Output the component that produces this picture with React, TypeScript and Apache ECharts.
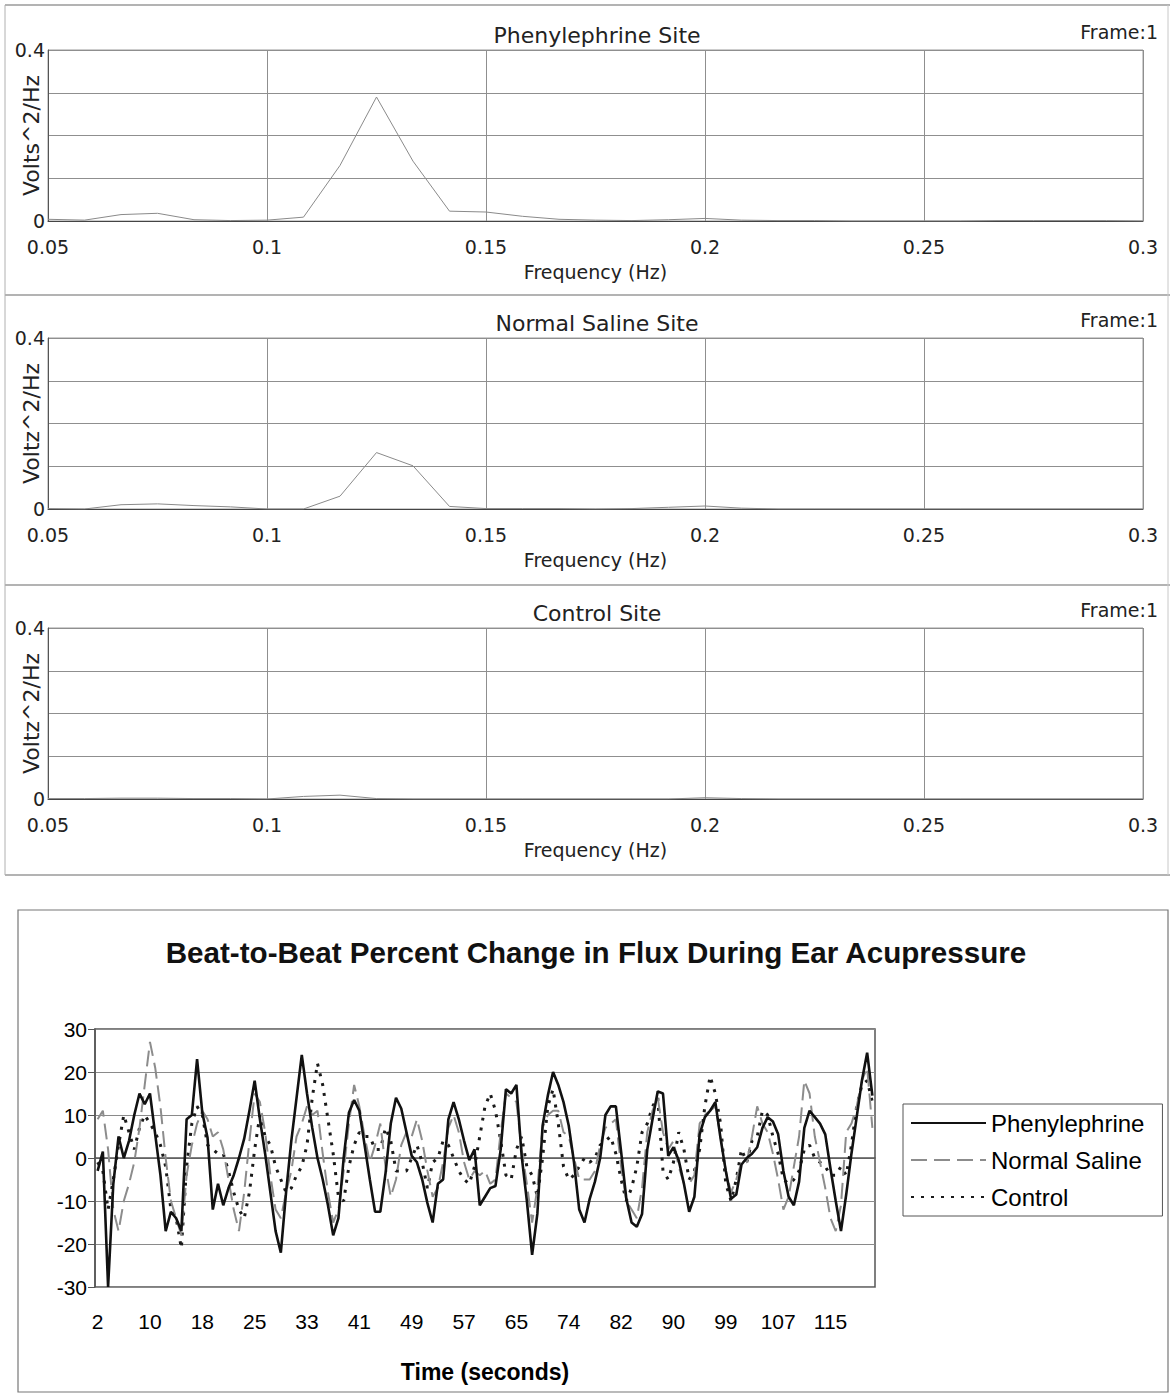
import React, { useEffect, useRef } from "react";
import * as echarts from "echarts";

// ---------- Spectra (top three panels) ----------
const freqHz = [
  0.05, 0.05833, 0.06667, 0.075, 0.08333, 0.09167, 0.1, 0.10833, 0.11667, 0.125,
  0.13333, 0.14167, 0.15, 0.15833, 0.16667, 0.175, 0.18333, 0.19167, 0.2, 0.20833,
  0.21667, 0.225, 0.23333, 0.24167, 0.25, 0.25833, 0.26667, 0.275, 0.28333, 0.29167, 0.3,
];
const phenylephrinePSD = [
  0.004, 0.002, 0.015, 0.018, 0.003, 0.001, 0.002, 0.009, 0.13, 0.29,
  0.14, 0.023, 0.021, 0.011, 0.004, 0.002, 0.001, 0.003, 0.006, 0.002,
  0.001, 0.001, 0, 0, 0, 0, 0.001, 0.001, 0.001, 0.001, 0,
];
const salinePSD = [
  0.001, 0, 0.01, 0.012, 0.008, 0.005, 0, 0, 0.03, 0.132,
  0.101, 0.006, 0.001, 0.001, 0.001, 0, 0.001, 0.004, 0.007, 0.002,
  0, 0, 0, 0, 0, 0, 0, 0, 0, 0, 0,
];
const controlPSD = [
  0.001, 0.001, 0.002, 0.002, 0.001, 0.001, 0, 0.006, 0.009, 0.001,
  0, 0, 0, 0, 0, 0, 0, 0, 0.003, 0.001,
  0, 0, 0, 0, 0, 0, 0, 0, 0, 0, 0,
];
const panelTitles = ["Phenylephrine Site", "Normal Saline Site", "Control Site"];
const panelYNames = ["Volts^2/Hz", "Voltz^2/Hz", "Voltz^2/Hz"];

// ---------- Beat-to-beat chart (bottom) ----------
const timeTickLabels = ["2", "10", "18", "25", "33", "41", "49", "57", "65", "74", "82", "90", "99", "107", "115"];
const seriesNames = ["Phenylephrine", "Normal Saline", "Control"];
const phenylephrine = [
  -3, 1.5, -30, -6, 5, 0, 4, 10, 15, 12.5,
  15, 5.5, -4, -17, -12.5, -14, -17, 9, 10, 23,
  10.5, 4.7, -12, -6, -11, -7, -4, 0, 4.5, 11,
  18, 9, 1, -8, -17, -22, -8, 4, 14, 24,
  15, 7, 0, -5, -11, -18, -14, 0, 10.5, 13.5,
  11, 3, -5, -12.5, -12.5, -3.5, 8, 14, 11.5, 6,
  0.5, -1, -5, -10.5, -15, -6, -5, 9, 13, 9,
  4, -0.5, 2, -11, -9, -7, -6.5, 2, 16, 15,
  17, 0.5, -10, -22.5, -13, 7.5, 14.5, 20, 17, 13,
  7.5, -1, -12, -15, -9.5, -5.5, 0, 10, 12, 12,
  1.5, -9.5, -15, -16, -13, 2, 9, 15.5, 15, 0.5,
  2.5, -0.5, -6, -12.5, -9, 5.5, 9.5, 11, 13, 4.5,
  -3, -9.5, -8.5, -1.5, 0, 1, 2.5, 7, 9.5, 8.5,
  5.5, -3, -9, -11, -5.5, 7, 11, 9.5, 8, 5.5,
  -2.5, -10, -17, -8.5, 1, 9.5, 18, 24.5, 14.5,
];
const normalSaline = [
  9, 11, 2, -12, -17, -10, -6, -1, 7, 17,
  27, 21, 12, 0, -10, -14, -18, -4, 3, 8,
  11, 9, 5, 6, 2, -5, -12, -17, -8, 4,
  15, 13, 6, -4, -12, -14, -8, -3, 5, 8,
  12, 10, 11, 1, -8, -15, -12, -3, 8, 17,
  12, 5, -1, 3, 8, -2, -9, -5, 3, 6,
  5, 9, 4, -3, -9, -7, -1, 7, 10, 6,
  -1, -5, -3, -4, -3, -6, -5, 6, 15, 14,
  13, 2, -6, -15, -7, 7, 10, 11, 11, 6,
  5, 0, -5, -5, -5, -3, 3, 7, 8, 9,
  -2, -10, -12, -14, -7, 6, 11, 14, 6, 2,
  4, -2, -6, -6, -4, 8, 10, 11, 12, 5,
  -3, -8, -5, -1, -1, 5, 12, 8, 6, 1,
  -5, -12, -9, -2, 5, 18, 15, 5, -1, -7,
  -14, -17, -11, 6, 8, 12, 18, 21, 7,
];
const control = [
  -1, -3, -12, -5, 3, 10, 6, 2, 7, 10,
  8, 6, 3, -2, -12, -14, -21, -2, 8, 12,
  10, 3, 2, 1, 1, -3, -8, -12, -14, -8,
  2, 10, 5, 3, -2, -5, -8, -7, -4, -2,
  3, 14, 22, 17, 9, 1, -9, -10, -2, 3,
  6, 5, 5, 2, 2, 7, 4, -3, -3, -3,
  0, 3, -1, -7, -1, 0, 4, 3, 0, -3,
  -5, -6, -2, 5, 12, 15, 11, 4, -4, -5,
  2, 5, -2, -4, -9, 0, 12, 16, 8, -2,
  -5, -4, -2, 0, -1, 0, 3, 4, 5, 1,
  -5, -10, -7, -2, 6, 8, 12, 14, -3, -5,
  -1, 6, 2, -5, -3, 2, 12, 19, 15, 8,
  -6, -10, -5, 2, -1, 4, 5, 11, 10, 5,
  1, -5, -6, -5, -3, 2, 3, 0, -1, -2,
  -4, -4, -2, -4, 3, 12, 17, 18, 13,
];
const beatIndex = phenylephrine.map((_, i) => String(i + 1));

const TOP_FONT = "DejaVu Sans";
const BOT_FONT = "Liberation Sans";

function buildOption() {
  const psd = [phenylephrinePSD, salinePSD, controlPSD];
  const panelTops = [50, 338, 628];
  const grids: any[] = [];
  const xAxes: any[] = [];
  const yAxes: any[] = [];
  const series: any[] = [];
  const graphics: any[] = [];

  panelTops.forEach((top, p) => {
    grids.push({
      left: 48, top, width: 1095, height: 171, containLabel: false, outerBoundsMode: "none",
      show: true, borderColor: "#9a9a9a", borderWidth: 1, backgroundColor: "#fff",
    });
    xAxes.push({
      type: "value", gridIndex: p, min: 0.05, max: 0.3, interval: 0.05,
      axisLine: { show: true, onZero: false, lineStyle: { color: "#444", width: 1 } },
      axisTick: { show: false },
      splitLine: { show: true, lineStyle: { color: "#8f8f8f", width: 1 } },
      axisLabel: {
        fontFamily: TOP_FONT, fontSize: 19, color: "#222", margin: 16,
        formatter: (v: number) => String(parseFloat(v.toFixed(2))),
      },
      name: "Frequency (Hz)", nameLocation: "middle", nameGap: 41,
      nameTextStyle: { fontFamily: TOP_FONT, fontSize: 19, color: "#222" },
    });
    yAxes.push({
      type: "value", gridIndex: p, min: 0, max: 0.4, interval: 0.1,
      axisLine: { show: true, lineStyle: { color: "#555", width: 1 } },
      axisTick: { show: false },
      splitLine: { show: true, lineStyle: { color: "#8f8f8f", width: 1 } },
      axisLabel: {
        fontFamily: TOP_FONT, fontSize: 19, color: "#222", margin: 3,
        formatter: (v: number) => (v === 0 ? "0" : Math.abs(v - 0.4) < 1e-9 ? "0.4" : ""),
      },
      name: panelYNames[p], nameLocation: "middle", nameRotate: 90, nameGap: 6,
      nameMoveOverlap: false,
      nameTextStyle: { fontFamily: TOP_FONT, fontSize: 22, color: "#222" },
    });
    series.push({
      type: "line", xAxisIndex: p, yAxisIndex: p, showSymbol: false, silent: true,
      data: freqHz.map((f, j) => [f, psd[p][j]]),
      lineStyle: { color: "#8a8a8a", width: 1 },
    });
    graphics.push({
      type: "text", x: 597, y: top - 15,
      style: { text: panelTitles[p], fontFamily: TOP_FONT, fontSize: 22, fill: "#222", align: "center", verticalAlign: "middle" },
    });
    graphics.push({
      type: "text", x: 1158, y: top - 18,
      style: { text: "Frame:1", fontFamily: TOP_FONT, fontSize: 19, fill: "#222", align: "right", verticalAlign: "middle" },
    });
  });

  // frame lines around the top panels
  [5, 295, 585, 875].forEach((y) => {
    graphics.push({ type: "line", shape: { x1: 5, y1: y, x2: 1170, y2: y }, style: { stroke: "#9a9a9a", lineWidth: 1.5 } });
  });
  graphics.push({ type: "line", shape: { x1: 5, y1: 5, x2: 5, y2: 875 }, style: { stroke: "#b0b0b0", lineWidth: 1 } });
  graphics.push({ type: "line", shape: { x1: 1168, y1: 5, x2: 1168, y2: 875 }, style: { stroke: "#c8c8c8", lineWidth: 1 } });

  // bottom chart box + title
  graphics.push({ type: "rect", shape: { x: 18, y: 910, width: 1150, height: 482 }, style: { fill: "none", stroke: "#777", lineWidth: 1.2 } });
  graphics.push({
    type: "text", x: 596, y: 952,
    style: { text: "Beat-to-Beat Percent Change in Flux During Ear Acupressure", fontFamily: BOT_FONT, fontWeight: "bold", fontSize: 29.6, fill: "#111", align: "center", verticalAlign: "middle" },
  });

  grids.push({
    left: 95, top: 1029, width: 780, height: 258, containLabel: false, outerBoundsMode: "none",
    show: true, borderColor: "#555", borderWidth: 1.5, backgroundColor: "#fff",
  });
  xAxes.push({
    type: "category", gridIndex: 3, data: beatIndex, boundaryGap: true,
    axisLine: { show: true, lineStyle: { color: "#555", width: 1.5 } },
    axisTick: { show: false },
    axisLabel: {
      interval: 9, fontFamily: BOT_FONT, fontSize: 21, color: "#000", margin: 24,
      formatter: (_v: string, idx: number) => timeTickLabels[idx / 10] ?? "",
    },
    name: "Time (seconds)", nameLocation: "middle", nameGap: 73,
    nameTextStyle: { fontFamily: BOT_FONT, fontSize: 23, fontWeight: "bold", color: "#000" },
  });
  yAxes.push({
    type: "value", gridIndex: 3, min: -30, max: 30, interval: 10,
    axisLine: { show: true, lineStyle: { color: "#555", width: 1.5 } },
    axisTick: { show: true, length: 7, lineStyle: { color: "#555" } },
    splitLine: { show: true, lineStyle: { color: "#8a8a8a", width: 1 } },
    axisLabel: { fontFamily: BOT_FONT, fontSize: 21, color: "#000", margin: 8 },
  });
  const botData = [phenylephrine, normalSaline, control];
  const styles = [
    { color: "#111", width: 2.6, type: "solid" },
    { color: "#8c8c8c", width: 2, type: [16, 7] },
    { color: "#1a1a1a", width: 3, type: [3, 7] },
  ];
  seriesNames.forEach((name, k) => {
    series.push({
      name, type: "line", xAxisIndex: 3, yAxisIndex: 3, showSymbol: false, symbol: "none",
      data: botData[k], lineStyle: styles[k], itemStyle: { color: styles[k].color }, z: 3 - k,
    });
  });

  return {
    animation: false,
    backgroundColor: "#fff",
    grid: grids,
    xAxis: xAxes,
    yAxis: yAxes,
    series,
    graphic: graphics,
    legend: {
      data: seriesNames, orient: "vertical", left: 903, top: 1104,
      itemWidth: 75, itemHeight: 24, itemGap: 13,
      padding: [7, 18, 7, 7], borderColor: "#555", borderWidth: 1,
      itemStyle: { opacity: 0, borderWidth: 0 },
      textStyle: { fontFamily: BOT_FONT, fontSize: 24, color: "#000" },
    },
  };
}

export default function App() {
  const ref = useRef<HTMLDivElement>(null);
  useEffect(() => {
    if (!ref.current) return;
    const chart = echarts.init(ref.current, undefined, { renderer: "svg" });
    chart.setOption(buildOption() as any);
    return () => chart.dispose();
  }, []);
  return <div ref={ref} style={{ position: "absolute", left: 0, top: 0, width: 1176, height: 1394, background: "#fff" }} />;
}
